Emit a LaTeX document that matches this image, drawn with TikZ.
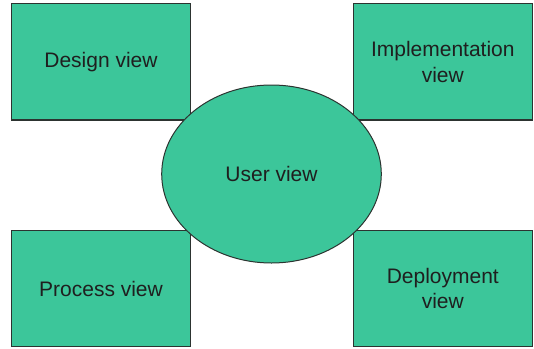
\documentclass[tikz,border=0pt]{standalone}
\usepackage{fontspec}
\setmainfont{Liberation Sans}
\usetikzlibrary{shapes.geometric}
\definecolor{viewgreen}{HTML}{3CC69A}
\definecolor{edgegray}{HTML}{2C3330}
\tikzset{
  viewbox/.style={draw=edgegray, line width=1.2pt, fill=viewgreen,
    minimum width=178.6pt, minimum height=116.3pt, inner sep=0pt,
    align=center, text=black!88, font=\fontsize{21}{25.5}\selectfont},
  userview/.style={ellipse, draw=edgegray, line width=1pt, fill=viewgreen,
    minimum width=219.6pt, minimum height=178pt, inner sep=0pt,
    text=black!88, font=\fontsize{21}{25.5}\selectfont}
}

\begin{document}
\begin{tikzpicture}[x=1pt, y=-1pt]
\useasboundingbox (0,0) rectangle (534,348);
\node[viewbox] (design)  at (101,61.8)    {Design view};
\node[viewbox] (impl)    at (442.8,61.8)  {Implementation\\view};
\node[viewbox] (process) at (101,288.7)   {Process view};
\node[viewbox] (deploy)  at (442.8,288.7) {Deployment\\view};
% the ellipse sits on top of the four corners
\node[userview] (user)   at (271.5,174)   {User view};
\end{tikzpicture}
\end{document}
